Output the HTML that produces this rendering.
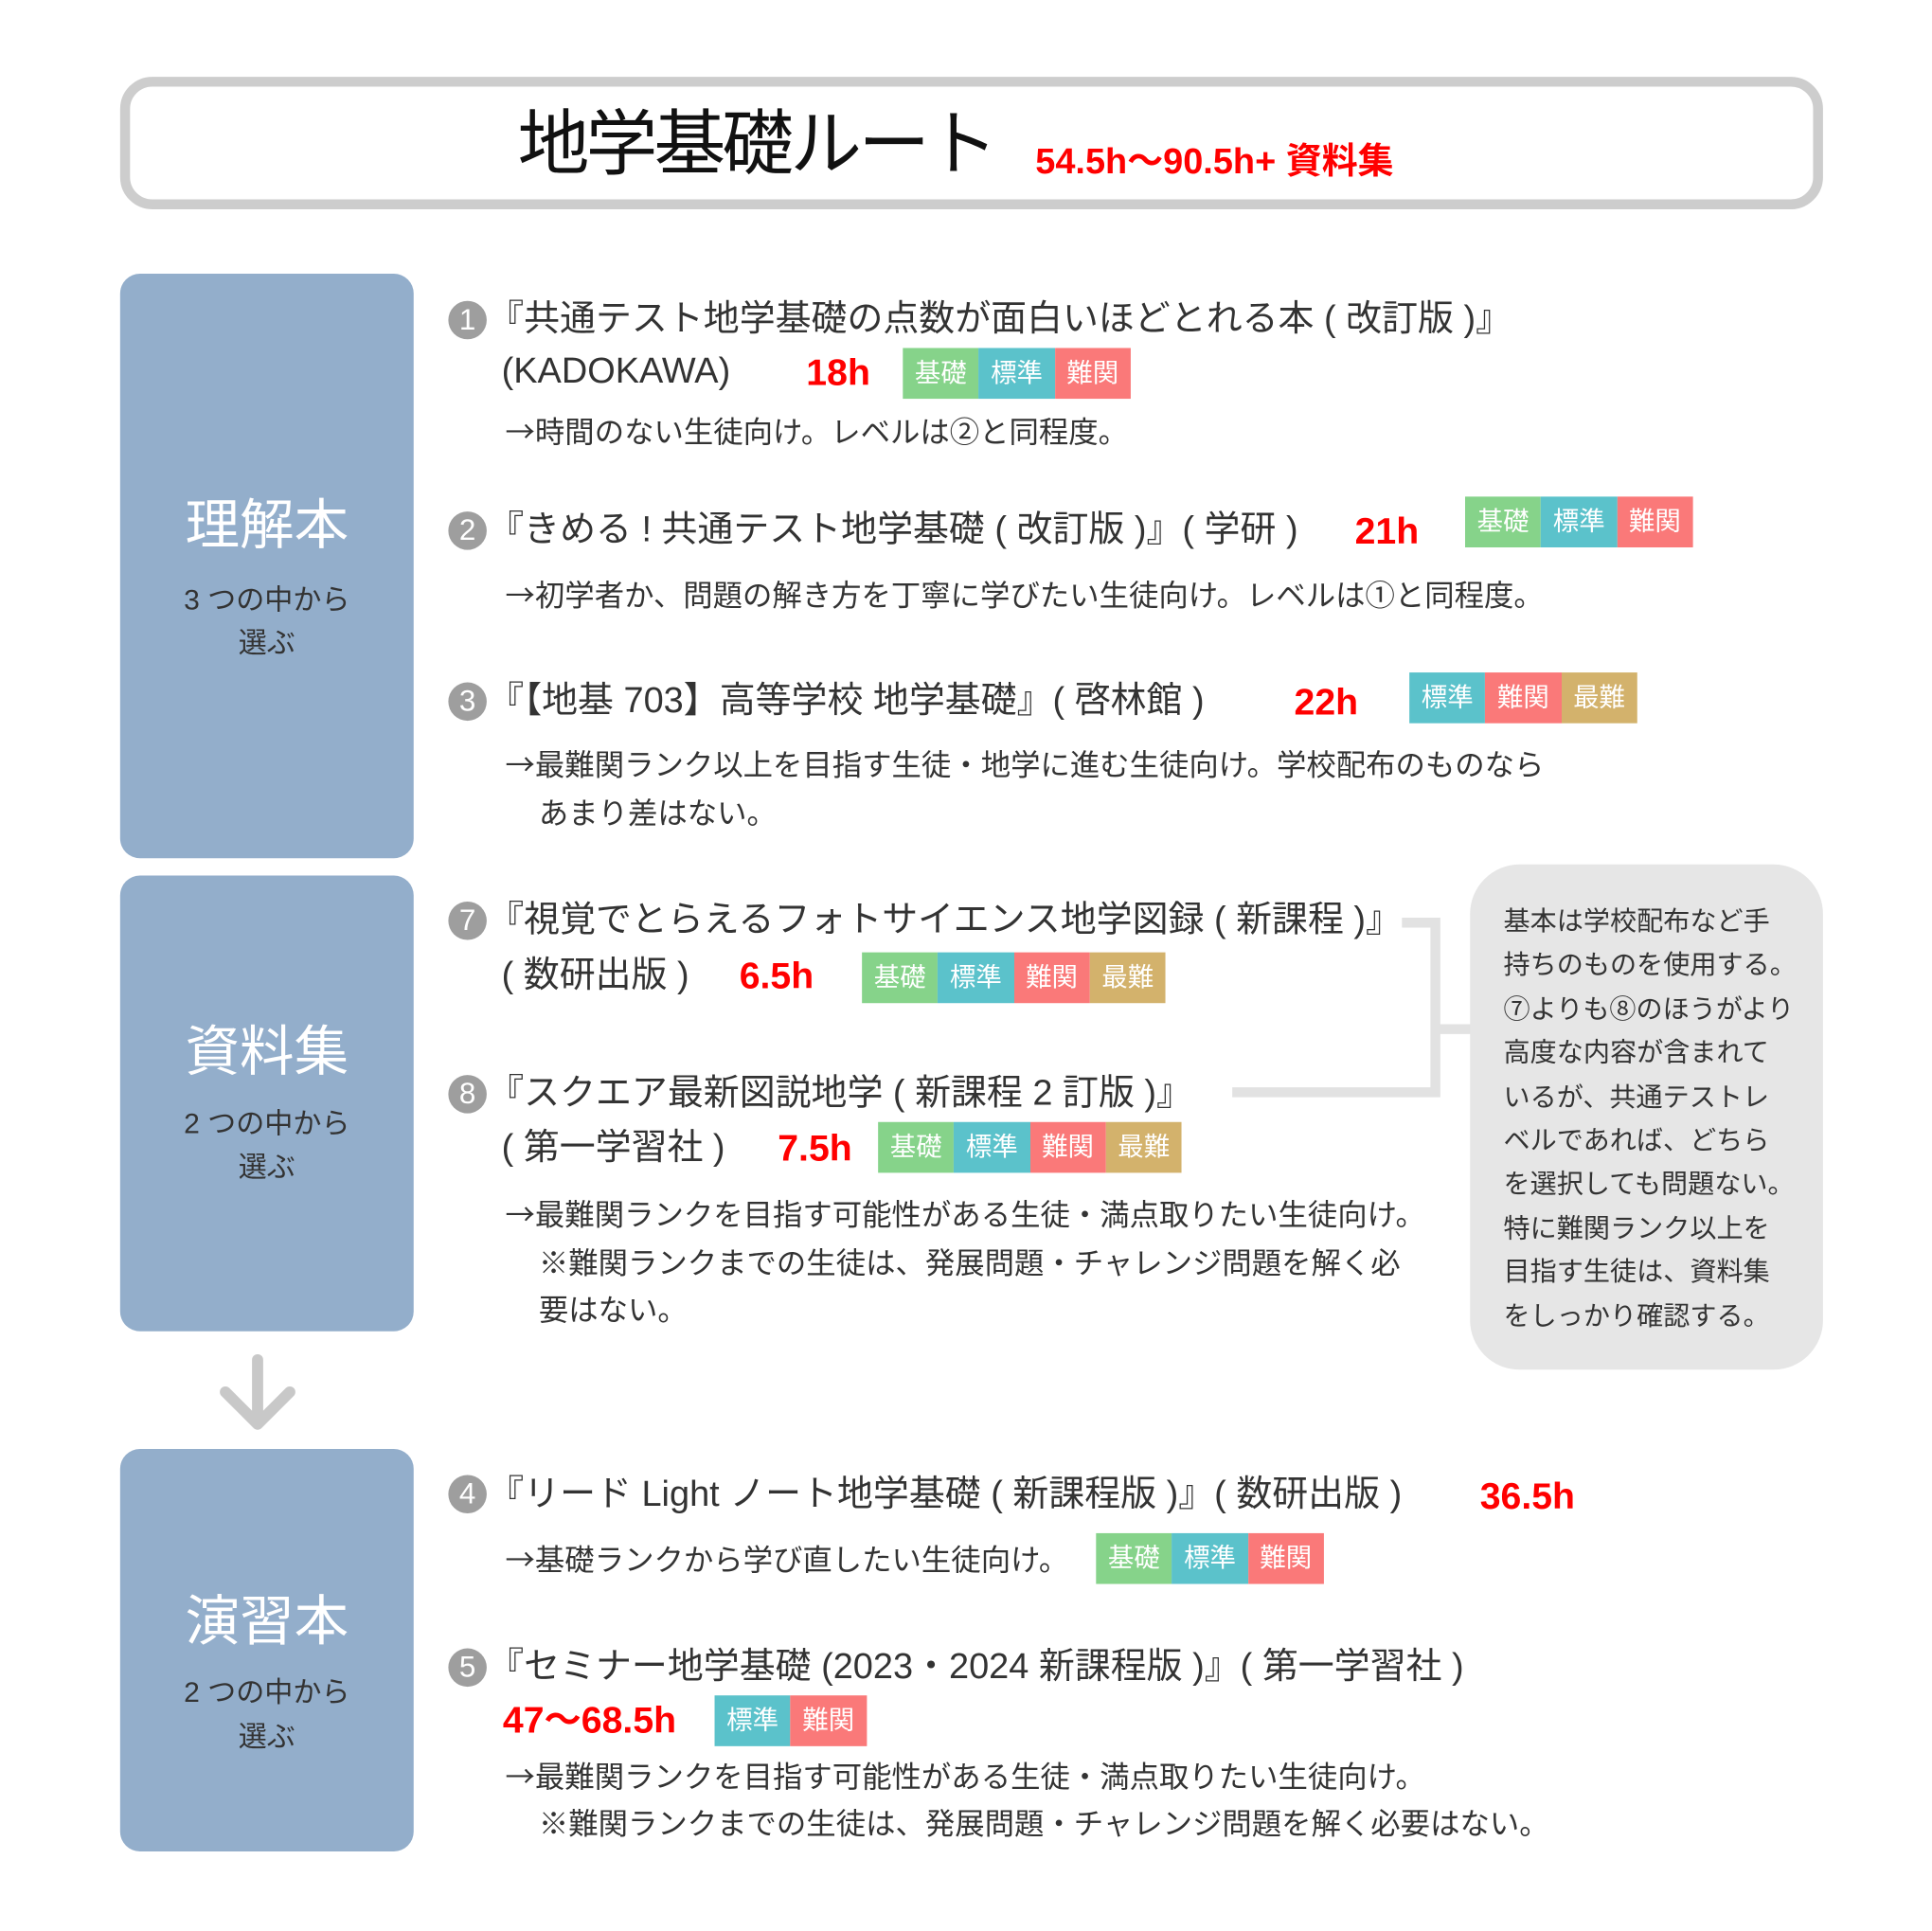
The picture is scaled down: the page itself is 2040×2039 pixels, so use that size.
<!DOCTYPE html>
<html><head><meta charset="utf-8"><style>
html,body{margin:0;padding:0;background:#fff;}
body{width:2040px;height:2039px;overflow:hidden;position:relative;}
#w{position:absolute;left:0;top:0;width:1560px;height:1559px;transform:scale(1.30769);transform-origin:0 0;font-family:"Liberation Sans","Noto Sans CJK JP",sans-serif;color:#333;}
.a{position:absolute;white-space:nowrap;}
.t{font-size:29px;line-height:40px;}
.q{margin-left:-11px;}
.d{font-size:24px;line-height:34px;font-family:"Noto Sans CJK JP","Liberation Sans",sans-serif;}
.r{color:#f00;font-size:30px;font-weight:bold;line-height:40px;}
.n{position:absolute;width:31px;height:31px;border-radius:50%;background:#9e9e9e;color:#fff;font-size:24px;line-height:31px;text-align:center;}
.bl{position:absolute;left:97px;width:237px;background:#93aecb;border-radius:16px;}
.L{position:absolute;width:100%;text-align:center;color:#fff;font-size:44px;line-height:50px;}
.S{position:absolute;width:100%;text-align:center;color:#333;font-size:23px;line-height:35px;}
.bg{position:absolute;display:flex;height:41px;}
.bg span{display:block;width:61.3px;color:#fff;font-size:21px;line-height:41px;text-align:center;}
.g{background:#86d38a}.c{background:#5bc2cb}.p{background:#fa7979}.y{background:#d3b26c}
</style></head><body><div id="w">
<div style="position:absolute;left:97px;top:62px;width:1359px;height:91px;border:8px solid #cdcdcd;border-radius:26px;"></div>
<div class="a" style="left:418px;top:82px;font-size:58px;line-height:70px;color:#111;letter-spacing:-3px;">地学基礎ルート</div>
<div class="a" style="left:836px;top:112px;font-size:29px;line-height:38px;color:#f00;font-weight:bold;">54.5h〜90.5h+ 資料集</div>

<div class="bl" style="top:221px;height:472px;"><div class="L" style="top:179px">理解本</div><div class="S" style="top:246px">3 つの中から</div><div class="S" style="top:281px">選ぶ</div></div>
<div class="bl" style="top:707px;height:368px;"><div class="L" style="top:118px">資料集</div><div class="S" style="top:183px">2 つの中から</div><div class="S" style="top:218px">選ぶ</div></div>
<div class="bl" style="top:1170px;height:325px;"><div class="L" style="top:115px">演習本</div><div class="S" style="top:179px">2 つの中から</div><div class="S" style="top:215px">選ぶ</div></div>
<svg class="a" style="left:170px;top:1092px" width="80" height="66"><path d="M38 6V56M12 32L38 58L64 32" stroke="#c8c8c8" stroke-width="9" fill="none" stroke-linecap="round" stroke-linejoin="round"/></svg>

<div class="n" style="left:362px;top:243px">1</div>
<div class="a t q" style="left:405px;top:238px">『共通テスト地学基礎の点数が面白いほどとれる本 ( 改訂版 )』</div>
<div class="a t" style="left:405px;top:280px">(KADOKAWA)</div>
<div class="a r" style="left:651px;top:282px">18h</div>
<div class="bg" style="left:729px;top:281px"><span class="g">基礎</span><span class="c">標準</span><span class="p">難関</span></div>
<div class="a d" style="left:408px;top:330px">→時間のない生徒向け。レベルは②と同程度。</div>

<div class="n" style="left:362px;top:413px">2</div>
<div class="a t q" style="left:405px;top:408px">『きめる ! 共通テスト地学基礎 ( 改訂版 )』( 学研 )</div>
<div class="a r" style="left:1094px;top:410px">21h</div>
<div class="bg" style="left:1183px;top:401px"><span class="g">基礎</span><span class="c">標準</span><span class="p">難関</span></div>
<div class="a d" style="left:408px;top:462px">→初学者か、問題の解き方を丁寧に学びたい生徒向け。レベルは①と同程度。</div>

<div class="n" style="left:362px;top:551px">3</div>
<div class="a t q" style="left:405px;top:546px">『【地基 703】高等学校 地学基礎』( 啓林館 )</div>
<div class="a r" style="left:1045px;top:548px">22h</div>
<div class="bg" style="left:1138px;top:543px"><span class="c">標準</span><span class="p">難関</span><span class="y">最難</span></div>
<div class="a d" style="left:408px;top:599px">→最難関ランク以上を目指す生徒・地学に進む生徒向け。学校配布のものなら</div>
<div class="a d" style="left:435px;top:638px">あまり差はない。</div>

<div class="n" style="left:362px;top:728px">7</div>
<div class="a t q" style="left:405px;top:723px">『視覚でとらえるフォトサイエンス地学図録 ( 新課程 )』</div>
<div class="a t" style="left:405px;top:768px">( 数研出版 )</div>
<div class="a r" style="left:597px;top:769px">6.5h</div>
<div class="bg" style="left:696px;top:769px"><span class="g">基礎</span><span class="c">標準</span><span class="p">難関</span><span class="y">最難</span></div>

<div class="n" style="left:362px;top:868px">8</div>
<div class="a t q" style="left:405px;top:863px">『スクエア最新図説地学 ( 新課程 2 訂版 )』</div>
<div class="a t" style="left:405px;top:907px">( 第一学習社 )</div>
<div class="a r" style="left:628px;top:908px">7.5h</div>
<div class="bg" style="left:709px;top:906px"><span class="g">基礎</span><span class="c">標準</span><span class="p">難関</span><span class="y">最難</span></div>
<div class="a d" style="left:408px;top:962px">→最難関ランクを目指す可能性がある生徒・満点取りたい生徒向け。</div>
<div class="a d" style="left:435px;top:1001px">※難関ランクまでの生徒は、発展問題・チャレンジ問題を解く必</div>
<div class="a d" style="left:435px;top:1039px">要はない。</div>

<svg class="a" style="left:0;top:0" width="1560" height="1200"><path d="M1132 745H1159V882H995M1159 831H1190" stroke="#e2e2e2" stroke-width="8" fill="none"/></svg>
<div style="position:absolute;left:1187px;top:698px;width:285px;height:408px;background:#e6e6e6;border-radius:40px;"></div>
<div class="a" style="left:1214px;top:727px;font-size:21.5px;line-height:35.4px;color:#333;">基本は学校配布など手<br>持ちのものを使用する。<br>⑦よりも⑧のほうがより<br>高度な内容が含まれて<br>いるが、共通テストレ<br>ベルであれば、どちら<br>を選択しても問題ない。<br>特に難関ランク以上を<br>目指す生徒は、資料集<br>をしっかり確認する。</div>

<div class="n" style="left:362px;top:1191px">4</div>
<div class="a t q" style="left:405px;top:1187px">『リード Light ノート地学基礎 ( 新課程版 )』( 数研出版 )</div>
<div class="a r" style="left:1195px;top:1189px">36.5h</div>
<div class="a d" style="left:408px;top:1241px">→基礎ランクから学び直したい生徒向け。</div>
<div class="bg" style="left:885px;top:1238px"><span class="g">基礎</span><span class="c">標準</span><span class="p">難関</span></div>

<div class="n" style="left:362px;top:1331px">5</div>
<div class="a t q" style="left:405px;top:1326px">『セミナー地学基礎 (2023・2024 新課程版 )』( 第一学習社 )</div>
<div class="a r" style="left:406px;top:1370px">47〜68.5h</div>
<div class="bg" style="left:577px;top:1369px"><span class="c">標準</span><span class="p">難関</span></div>
<div class="a d" style="left:408px;top:1416px">→最難関ランクを目指す可能性がある生徒・満点取りたい生徒向け。</div>
<div class="a d" style="left:435px;top:1454px">※難関ランクまでの生徒は、発展問題・チャレンジ問題を解く必要はない。</div>
</div></body></html>
